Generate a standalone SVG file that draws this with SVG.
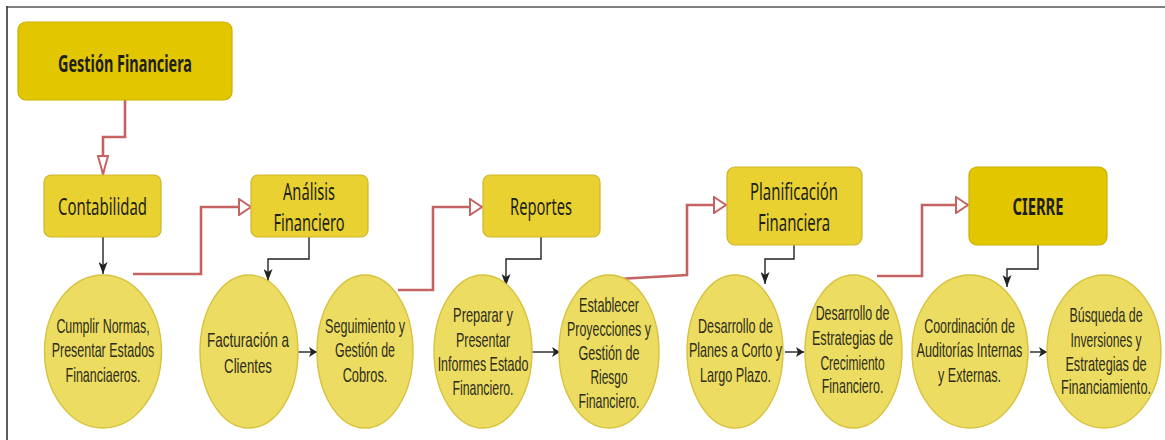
<svg xmlns="http://www.w3.org/2000/svg" width="1165" height="440" viewBox="0 0 1165 440">
  <style>
    .box { fill: #E8D131; stroke: #CDB52A; stroke-width: 1.2; }
    .box-main { fill: #E2C700; stroke: #C9B000; stroke-width: 1.2; }
    .oval { fill: #ECDC62; stroke: #D7C23E; stroke-width: 1.4; }
    .btxt { font-family: "Noto Sans", "Liberation Sans", sans-serif; font-size: 23px; fill: #1f1f1a; text-anchor: middle; }
    .btxt-b { font-weight: bold; }
    .otxt { font-family: "Liberation Sans", Arial, sans-serif; font-size: 20px; fill: #2e2d1c; text-anchor: middle; }
    .flow { fill: none; stroke: #C56363; stroke-width: 2.6; }
    .link { fill: none; stroke: #222222; stroke-width: 1.4; }
  </style>
  <defs>
    <marker id="hollowDown" markerUnits="userSpaceOnUse" viewBox="0 0 20 12" refX="19" refY="6" markerWidth="20" markerHeight="12" orient="auto">
      <path d="M1,1 L19,6 L1,11 Z" fill="#ffffff" stroke="#C56363" stroke-width="2"/>
    </marker>
    <marker id="hollowSide" markerUnits="userSpaceOnUse" viewBox="0 0 14 18" refX="13" refY="9" markerWidth="14" markerHeight="18" orient="auto">
      <path d="M1,1 L13,9 L1,17 Z" fill="#ffffff" stroke="#C56363" stroke-width="2"/>
    </marker>
    <marker id="solidDown" markerUnits="userSpaceOnUse" viewBox="0 0 12 9" refX="12" refY="4.5" markerWidth="12" markerHeight="9" orient="auto">
      <path d="M0,0 L12,4.5 L0,9 L3,4.5 Z" fill="#222222"/>
    </marker>
    <marker id="solidSide" markerUnits="userSpaceOnUse" viewBox="0 0 8 10" refX="8" refY="5" markerWidth="8" markerHeight="10" orient="auto">
      <path d="M0,0 L8,5 L0,10 L2,5 Z" fill="#222222"/>
    </marker>
  </defs>

  <rect width="1165" height="440" fill="#ffffff"/>
  <!-- page frame -->
  <line x1="7" y1="7" x2="1165" y2="7" stroke="#808080" stroke-width="2"/>
  <line x1="7" y1="6" x2="7" y2="440" stroke="#333333" stroke-width="1.6"/>

  <g id="connectors">
    <path class="flow" d="M125,100 V137 H103 V174" marker-end="url(#hollowDown)"/>
    <path class="flow" d="M133,274 H201 V207 H251" marker-end="url(#hollowSide)"/>
    <path class="flow" d="M398,290 H433 V207 H482" marker-end="url(#hollowSide)"/>
    <path class="flow" d="M618,279 L687,275 V205 H726" marker-end="url(#hollowSide)"/>
    <path class="flow" d="M877,276 H922 V205 H968" marker-end="url(#hollowSide)"/>

    <path class="link" d="M103,237 V274" marker-end="url(#solidDown)"/>
    <path class="link" d="M309,237 V259 H268 V281" marker-end="url(#solidDown)"/>
    <path class="link" d="M541,237 V259 H506 V286" marker-end="url(#solidDown)"/>
    <path class="link" d="M794,245 V259 H765 V284" marker-end="url(#solidDown)"/>
    <path class="link" d="M1038,245 V269 H1007 V287" marker-end="url(#solidDown)"/>

    <path class="link" d="M293,352 H317" marker-end="url(#solidSide)"/>
    <path class="link" d="M532,352 H560" marker-end="url(#solidSide)"/>
    <path class="link" d="M785,352 H804" marker-end="url(#solidSide)"/>
    <path class="link" d="M1030,352 H1047" marker-end="url(#solidSide)"/>
  </g>

  <!-- header boxes -->
  <g id="gestion-financiera">
    <rect class="box-main" x="18" y="22" width="214" height="78" rx="8"/>
    <text class="btxt btxt-b" x="125" y="72" textLength="134" lengthAdjust="spacingAndGlyphs">Gestión Financiera</text>
  </g>
  <g id="contabilidad">
    <rect class="box" x="44" y="175" width="117" height="62" rx="7"/>
    <text class="btxt" x="102.5" y="215" textLength="89" lengthAdjust="spacingAndGlyphs">Contabilidad</text>
  </g>
  <g id="analisis-financiero">
    <rect class="box" x="251" y="175" width="117" height="62" rx="7"/>
    <text class="btxt" x="309" y="200" textLength="52" lengthAdjust="spacingAndGlyphs">Análisis</text>
    <text class="btxt" x="309" y="231" textLength="71" lengthAdjust="spacingAndGlyphs">Financiero</text>
  </g>
  <g id="reportes">
    <rect class="box" x="483" y="175" width="117" height="62" rx="7"/>
    <text class="btxt" x="541" y="215" textLength="62" lengthAdjust="spacingAndGlyphs">Reportes</text>
  </g>
  <g id="planificacion-financiera">
    <rect class="box" x="727" y="167" width="135" height="78" rx="8"/>
    <text class="btxt" x="794" y="200" textLength="88" lengthAdjust="spacingAndGlyphs">Planificación</text>
    <text class="btxt" x="794" y="231" textLength="72" lengthAdjust="spacingAndGlyphs">Financiera</text>
  </g>
  <g id="cierre">
    <rect class="box-main" x="969" y="167" width="138" height="78" rx="8"/>
    <text class="btxt btxt-b" x="1038" y="215" textLength="51" lengthAdjust="spacingAndGlyphs">CIERRE</text>
  </g>

  <!-- activity ovals; labels are set in a horizontally condensed sans -->
  <g id="cumplir-normas">
    <ellipse class="oval" cx="103" cy="351.5" rx="58.5" ry="76.5"/>
    <g transform="translate(103 0) scale(0.63 1)">
      <text class="otxt" x="0" y="333" textLength="148" lengthAdjust="spacingAndGlyphs">Cumplir Normas,</text>
      <text class="otxt" x="0" y="357" textLength="163" lengthAdjust="spacingAndGlyphs">Presentar Estados</text>
      <text class="otxt" x="0" y="382" textLength="119" lengthAdjust="spacingAndGlyphs">Financiaeros.</text>
    </g>
  </g>
  <g id="facturacion">
    <ellipse class="oval" cx="249" cy="351.5" rx="49" ry="76.5"/>
    <g transform="translate(248 0) scale(0.63 1)">
      <text class="otxt" x="0" y="347" textLength="130" lengthAdjust="spacingAndGlyphs">Facturación a</text>
      <text class="otxt" x="0" y="373" textLength="76" lengthAdjust="spacingAndGlyphs">Clientes</text>
    </g>
  </g>
  <g id="seguimiento-cobros">
    <ellipse class="oval" cx="365" cy="351.5" rx="48" ry="76.5"/>
    <g transform="translate(365 0) scale(0.63 1)">
      <text class="otxt" x="0" y="333" textLength="127" lengthAdjust="spacingAndGlyphs">Seguimiento y</text>
      <text class="otxt" x="0" y="357" textLength="95" lengthAdjust="spacingAndGlyphs">Gestión de</text>
      <text class="otxt" x="0" y="382" textLength="71" lengthAdjust="spacingAndGlyphs">Cobros.</text>
    </g>
  </g>
  <g id="preparar-informes">
    <ellipse class="oval" cx="483" cy="351.5" rx="49" ry="76.5"/>
    <g transform="translate(483 0) scale(0.63 1)">
      <text class="otxt" x="0" y="322" textLength="95" lengthAdjust="spacingAndGlyphs">Preparar y</text>
      <text class="otxt" x="0" y="347" textLength="86" lengthAdjust="spacingAndGlyphs">Presentar</text>
      <text class="otxt" x="0" y="371" textLength="144" lengthAdjust="spacingAndGlyphs">Informes Estado</text>
      <text class="otxt" x="0" y="395" textLength="97" lengthAdjust="spacingAndGlyphs">Financiero.</text>
    </g>
  </g>
  <g id="proyecciones-riesgo">
    <ellipse class="oval" cx="609" cy="351.5" rx="50" ry="76.5"/>
    <g transform="translate(609 0) scale(0.63 1)">
      <text class="otxt" x="0" y="312" textLength="95" lengthAdjust="spacingAndGlyphs">Establecer</text>
      <text class="otxt" x="0" y="336" textLength="133" lengthAdjust="spacingAndGlyphs">Proyecciones y</text>
      <text class="otxt" x="0" y="360" textLength="97" lengthAdjust="spacingAndGlyphs">Gestión de</text>
      <text class="otxt" x="0" y="384" textLength="59" lengthAdjust="spacingAndGlyphs">Riesgo</text>
      <text class="otxt" x="0" y="408" textLength="97" lengthAdjust="spacingAndGlyphs">Financiero.</text>
    </g>
  </g>
  <g id="planes-plazo">
    <ellipse class="oval" cx="735" cy="351.5" rx="48" ry="76.5"/>
    <g transform="translate(735.5 0) scale(0.63 1)">
      <text class="otxt" x="0" y="333" textLength="119" lengthAdjust="spacingAndGlyphs">Desarrollo de</text>
      <text class="otxt" x="0" y="357" textLength="148" lengthAdjust="spacingAndGlyphs">Planes a Corto y</text>
      <text class="otxt" x="0" y="382" textLength="113" lengthAdjust="spacingAndGlyphs">Largo Plazo.</text>
    </g>
  </g>
  <g id="estrategias-crecimiento">
    <ellipse class="oval" cx="853.5" cy="351.5" rx="48.5" ry="76.5"/>
    <g transform="translate(852.5 0) scale(0.63 1)">
      <text class="otxt" x="0" y="320" textLength="117" lengthAdjust="spacingAndGlyphs">Desarrollo de</text>
      <text class="otxt" x="0" y="345" textLength="129" lengthAdjust="spacingAndGlyphs">Estrategias de</text>
      <text class="otxt" x="0" y="370" textLength="102" lengthAdjust="spacingAndGlyphs">Crecimiento</text>
      <text class="otxt" x="0" y="393" textLength="98" lengthAdjust="spacingAndGlyphs">Financiero.</text>
    </g>
  </g>
  <g id="auditorias">
    <ellipse class="oval" cx="970" cy="351.5" rx="58" ry="76.5"/>
    <g transform="translate(969.5 0) scale(0.63 1)">
      <text class="otxt" x="0" y="333" textLength="144" lengthAdjust="spacingAndGlyphs">Coordinación de</text>
      <text class="otxt" x="0" y="357" textLength="168" lengthAdjust="spacingAndGlyphs">Auditorías Internas</text>
      <text class="otxt" x="0" y="382" textLength="100" lengthAdjust="spacingAndGlyphs">y Externas.</text>
    </g>
  </g>
  <g id="inversiones-financiamiento">
    <ellipse class="oval" cx="1104" cy="351.5" rx="57" ry="76.5"/>
    <g transform="translate(1106 0) scale(0.63 1)">
      <text class="otxt" x="0" y="322" textLength="116" lengthAdjust="spacingAndGlyphs">Búsqueda de</text>
      <text class="otxt" x="0" y="347" textLength="113" lengthAdjust="spacingAndGlyphs">Inversiones y</text>
      <text class="otxt" x="0" y="371" textLength="129" lengthAdjust="spacingAndGlyphs">Estrategias de</text>
      <text class="otxt" x="0" y="394" textLength="143" lengthAdjust="spacingAndGlyphs">Financiamiento.</text>
    </g>
  </g>
</svg>
